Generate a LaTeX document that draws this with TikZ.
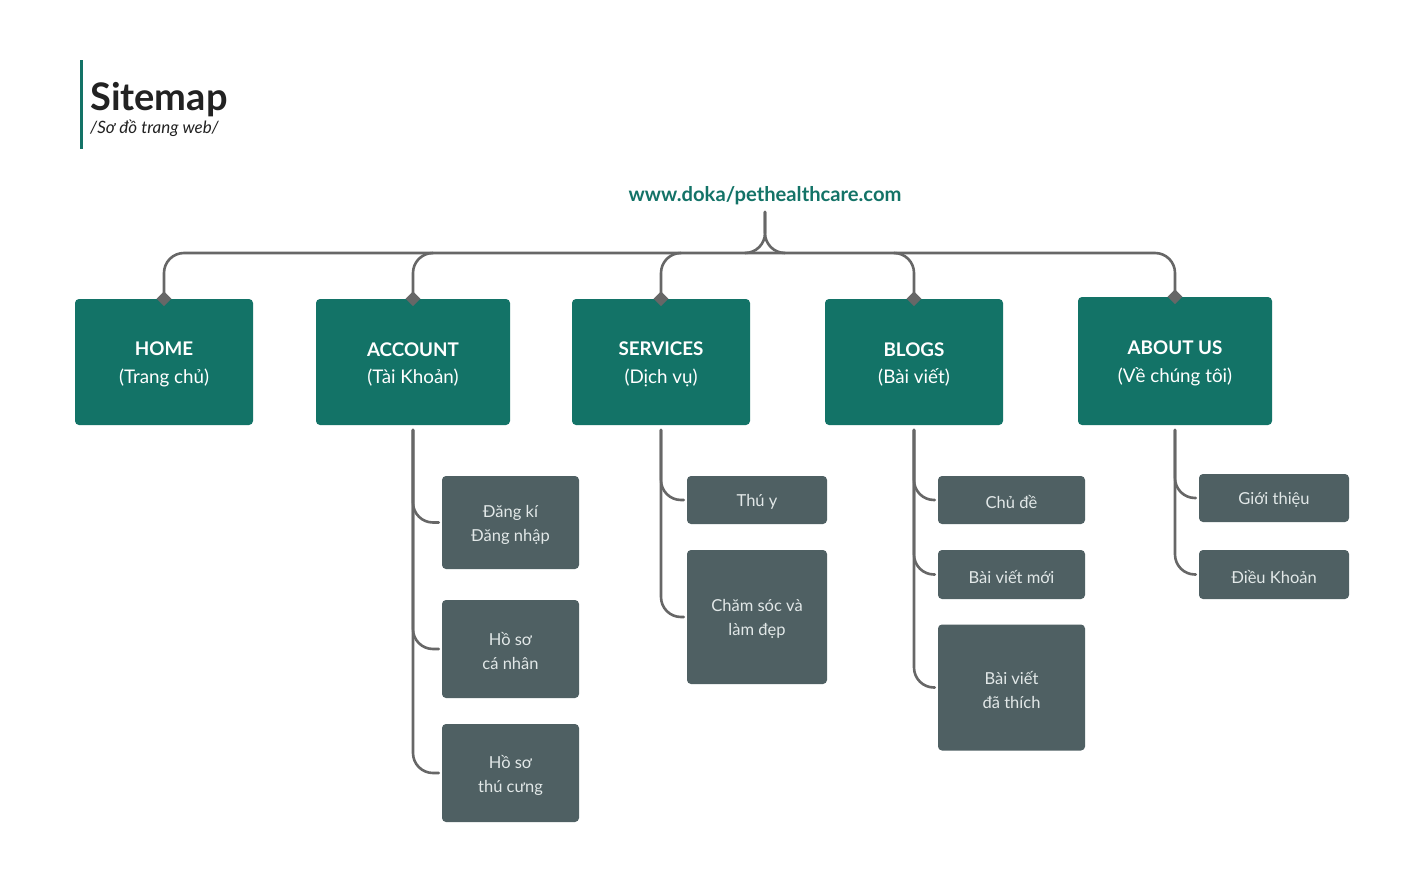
\documentclass[tikz,border=0pt]{standalone}
\usepackage{fontspec}
\setmainfont{Lato}
\usetikzlibrary{shapes.geometric}
\definecolor{teal1}{HTML}{137367}
\definecolor{slate}{HTML}{4F6063}
\definecolor{linec}{HTML}{676767}
\definecolor{titlec}{HTML}{222222}
\definecolor{childtxt}{HTML}{E2E8E8}
\tikzset{
  mainbox/.style={fill=teal1, rounded corners=4pt, inner sep=0pt},
  mainlbl/.style={text=white, align=center, inner sep=0pt, yshift=-2.5pt,
    font=\fontsize{18.8}{28}\selectfont},
  childbox/.style={fill=slate, rounded corners=4pt, inner sep=0pt},
  childlbl/.style={text=childtxt, align=center, inner sep=0pt, yshift=-2pt,
    font=\fontsize{16.5}{24}\selectfont},
  conn/.style={draw=linec, line width=2.6pt, rounded corners=20pt, line cap=round},
  dmark/.style={shape=diamond, fill=linec, minimum size=15pt, inner sep=0pt}
}
\begin{document}
\begin{tikzpicture}[x=1pt,y=-1pt]
\useasboundingbox (0,0) rectangle (1424,870);
\fill[white] (0,0) rectangle (1424,870);

% title
\fill[teal1] (80,60) rectangle (83,149);
\node[anchor=base west, inner sep=0pt, text=titlec, font=\fontsize{38}{40}\selectfont\bfseries] (title) at (90,110) {Sitemap};
\node[anchor=base west, inner sep=0pt, text=titlec, font=\fontsize{17}{20}\selectfont\itshape] (subtitle) at (90,133) {/Sơ đồ trang web/};

% url
\node[text=teal1, font=\fontsize{20.2}{22}\selectfont\bfseries, inner sep=0pt] (url) at (765,196) {www.doka/pethealthcare.com};

% main boxes
\node[mainbox, minimum width=178pt, minimum height=126pt, label={[mainlbl]center:\textbf{HOME}\\(Trang chủ)}] (home) at (164,362) {};
\node[mainbox, minimum width=194pt, minimum height=126pt, label={[mainlbl]center:\textbf{ACCOUNT}\\(Tài Khoản)}] (account) at (413,362) {};
\node[mainbox, minimum width=178pt, minimum height=126pt, label={[mainlbl]center:\textbf{SERVICES}\\(Dịch vụ)}] (services) at (661,362) {};
\node[mainbox, minimum width=178pt, minimum height=126pt, label={[mainlbl]center:\textbf{BLOGS}\\(Bài viết)}] (blogs) at (914,362) {};
\node[mainbox, minimum width=194pt, minimum height=128pt, label={[mainlbl]center:\textbf{ABOUT US}\\(Về chúng tôi)}] (about) at (1175,361) {};

% bus: outer stubs and the line in one path
\draw[conn] (home.north) -- (164,253) -- (1175,253) -- (about.north);
% junction from the url
\coordinate (hubtop) at (765,212);
\draw[conn] (hubtop) |- (745,253);
\draw[conn] (hubtop) |- (785,253);
% inner stubs
\draw[conn] (account.north) |- (433,253);
\draw[conn] (services.north) |- (681,253);
\draw[conn] (blogs.north) |- (894,253);

% diamonds
\node[dmark] (dhome) at (home.north) {};
\node[dmark] (daccount) at (account.north) {};
\node[dmark] (dservices) at (services.north) {};
\node[dmark] (dblogs) at (blogs.north) {};
\node[dmark] (dabout) at (about.north) {};

% account children
\node[childbox, minimum width=137pt, minimum height=93pt, label={[childlbl]center:Đăng kí\\Đăng nhập}] (a1) at (510.5,522.5) {};
\node[childbox, minimum width=137pt, minimum height=98pt, label={[childlbl]center:Hồ sơ\\cá nhân}] (a2) at (510.5,649) {};
\node[childbox, minimum width=137pt, minimum height=98pt, label={[childlbl]center:Hồ sơ\\thú cưng}] (a3) at (510.5,773) {};
\coordinate (aroot) at (413,430);
\draw[conn, shorten >=3pt] (aroot) |- (a1.west);
\draw[conn, shorten >=3pt] (aroot) |- (a2.west);
\draw[conn, shorten >=3pt] (aroot) |- (a3.west);

% services children
\node[childbox, minimum width=140pt, minimum height=48pt, label={[childlbl]center:Thú y}] (s1) at (757,500) {};
\node[childbox, minimum width=140pt, minimum height=134pt, label={[childlbl]center:Chăm sóc và\\làm đẹp}] (s2) at (757,617) {};
\coordinate (sroot) at (661,430);
\draw[conn, shorten >=3pt] (sroot) |- (s1.west);
\draw[conn, shorten >=3pt] (sroot) |- (s2.west);

% blogs children
\node[childbox, minimum width=147pt, minimum height=48pt, label={[childlbl]center:Chủ đề}] (b1) at (1011.5,500) {};
\node[childbox, minimum width=147pt, minimum height=49pt, label={[childlbl]center:Bài viết mới}] (b2) at (1011.5,574.5) {};
\node[childbox, minimum width=147pt, minimum height=126pt, label={[childlbl]center:Bài viết\\đã thích}] (b3) at (1011.5,687.5) {};
\coordinate (broot) at (914,430);
\draw[conn, shorten >=3pt] (broot) |- (b1.west);
\draw[conn, shorten >=3pt] (broot) |- (b2.west);
\draw[conn, shorten >=3pt] (broot) |- (b3.west);

% about children
\node[childbox, minimum width=150pt, minimum height=48pt, label={[childlbl]center:Giới thiệu}] (u1) at (1274,498) {};
\node[childbox, minimum width=150pt, minimum height=49pt, label={[childlbl]center:Điều Khoản}] (u2) at (1274,574.5) {};
\coordinate (uroot) at (1175,430);
\draw[conn, shorten >=3pt] (uroot) |- (u1.west);
\draw[conn, shorten >=3pt] (uroot) |- (u2.west);
\end{tikzpicture}
\end{document}
